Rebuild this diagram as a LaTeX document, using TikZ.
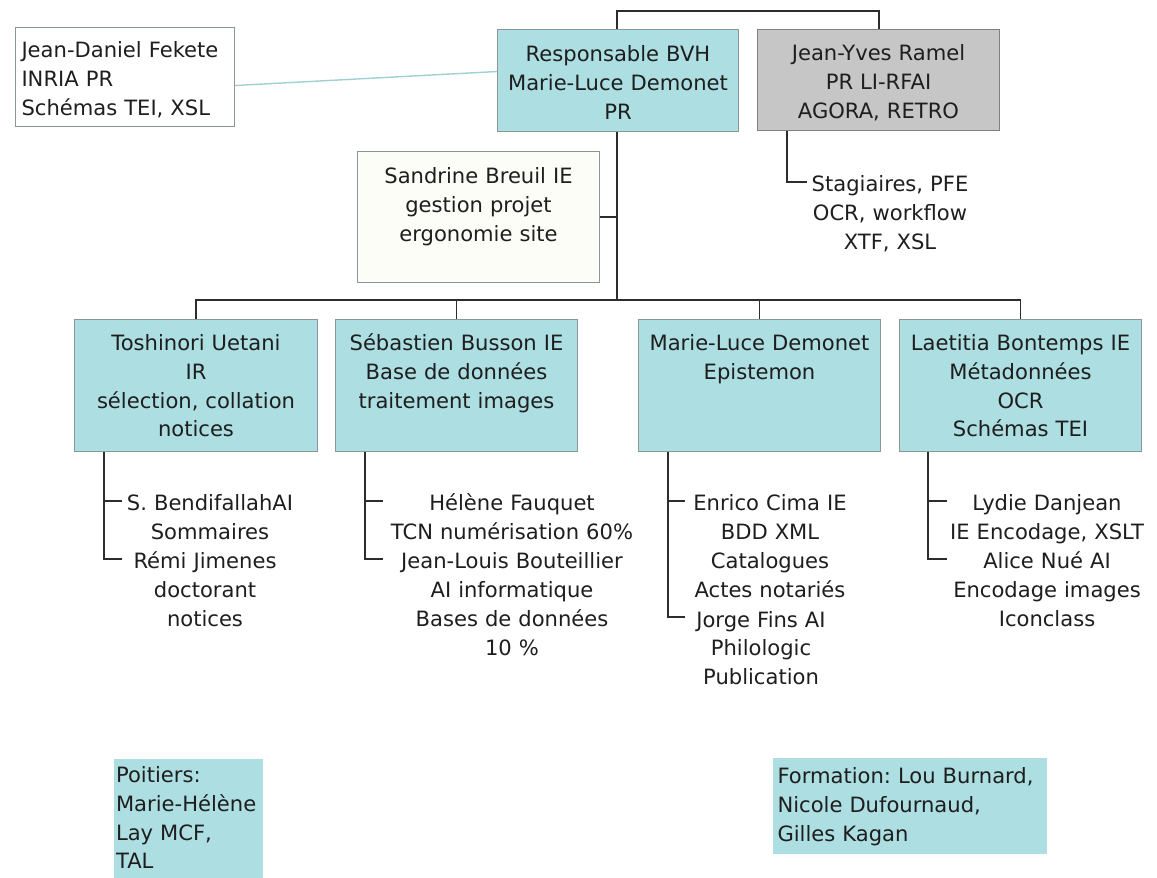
\documentclass[tikz,border=0pt]{standalone}
\usepackage{fontspec}
\setmainfont{DejaVu Sans}
\usepackage{tikz}
\frenchspacing

\definecolor{bvhteal}{RGB}{172,222,226}
\definecolor{ramelgray}{RGB}{198,198,198}
\definecolor{paper}{RGB}{253,253,247}
\definecolor{boxline}{RGB}{140,150,152}
\definecolor{linkgray}{RGB}{45,45,45}
\definecolor{feklink}{RGB}{158,208,212}
\definecolor{ink}{RGB}{30,30,30}

\begin{document}
\begin{tikzpicture}[x=0.02cm, y=-0.02cm, font=\fontsize{12}{16.4}\selectfont, text=ink,
  box/.style={draw=boxline, line width=0.6pt, anchor=north west, inner xsep=0.08cm, inner ysep=0pt, align=center, text height=0.64cm},
  tealbox/.style={box, fill=bvhteal},
  link/.style={draw=linkgray, line width=0.9pt},
  sub/.style={anchor=base, align=center, inner sep=0pt}]

\useasboundingbox (0,0) rectangle (1157,878);

% top row
\node[box, fill=white, align=left, inner xsep=0.12cm, text width=4.14cm, text height=0.6cm, text depth=1.38cm] (fekete) at (15,27) {Jean-Daniel Fekete\\INRIA PR\\Schémas TEI, XSL};
\node[tealbox, text width=4.66cm, text depth=1.4cm] (resp) at (497,29) {Responsable BVH\\Marie-Luce Demonet\\PR};
\node[box, fill=ramelgray, draw=gray, text width=4.68cm, text depth=1.4cm, text height=0.62cm] (ramel) at (757,29) {Jean-Yves Ramel\\PR LI-RFAI\\AGORA, RETRO};
\node[sub, text width=3.32cm] (stag) at (890,192) {Stagiaires, PFE\\OCR, workflow\\XTF, XSL};
\node[box, fill=paper, text width=4.68cm, text depth=1.98cm] (sandrine) at (357,151) {Sandrine Breuil IE\\gestion projet\\ergonomie site};

% second row
\node[tealbox, text width=4.7cm, text height=0.62cm, text depth=2.02cm] (b1) at (74,319) {Toshinori Uetani\\IR\\sélection, collation\\notices};
\node[tealbox, text width=4.68cm, text height=0.62cm, text depth=2.02cm] (b2) at (335,319) {Sébastien Busson IE\\Base de données\\traitement images};
\node[tealbox, text width=4.68cm, text height=0.62cm, text depth=2.02cm] (b3) at (638,319) {Marie-Luce Demonet\\Epistemon};
\node[tealbox, text width=4.68cm, text height=0.62cm, text depth=2.02cm] (b4) at (899,319) {Laetitia Bontemps IE\\Métadonnées\\OCR\\Schémas TEI};

\node[sub, text width=3.52cm] (s11) at (210,511) {S. BendifallahAI\\Sommaires};
\node[sub, text width=3.32cm] (s12) at (205,569) {Rémi Jimenes\\doctorant\\notices};
\node[sub, text width=5.16cm] (s21) at (512,511) {Hélène Fauquet\\TCN numérisation 60\%};
\node[sub, text width=5.16cm] (s22) at (512,569) {Jean-Louis Bouteillier\\AI informatique\\Bases de données\\10 \%};
\node[sub, text width=3.4cm] (s31) at (770,511) {Enrico Cima IE\\BDD XML\\Catalogues\\Actes notariés};
\node[sub, text width=3.04cm] (s32) at (761,627) {Jorge Fins AI\\Philologic\\Publication};
\node[sub, text width=4cm] (s41) at (1047,511) {Lydie Danjean\\IE Encodage, XSLT};
\node[sub, text width=4cm] (s42) at (1047,569) {Alice Nué AI\\Encodage images\\Iconclass};

% bottom notes
\node[box, draw=none, fill=bvhteal, align=left, inner xsep=0.05cm, text width=2.9cm, text height=0.48cm, text depth=1.92cm] (poitiers) at (113,758) {Poitiers:\\\mbox{Marie-Hélène}\\Lay MCF,\\TAL};
\node[box, draw=none, fill=bvhteal, align=left, inner xsep=0.1cm, text width=5.3cm, text height=0.52cm, text depth=1.4cm] (formation) at (772,757) {Formation: Lou Burnard,\\Nicole Dufournaud,\\Gilles Kagan};

% connectors
\coordinate (trunk) at (617,300);
\coordinate (topbar) at (879,11);
\draw[feklink, line width=0.8pt] ([yshift=-0.17cm]fekete.east) -- ([yshift=0.18cm]resp.west);
\draw[link] (resp.north -| trunk) |- (topbar) -- (ramel.north -| topbar);
\draw[link] (resp.south -| trunk) -- (trunk);
\draw[link] (sandrine.east) -- (sandrine.east -| trunk);
\draw[link] (b1.north) |- (trunk) -| (b4.north);
\draw[link] (b2.north) -- (b2.north |- trunk);
\draw[link] (b3.north) -- (b3.north |- trunk);

\coordinate (v0) at ([xshift=0.6cm]ramel.south west);
\draw[link] (v0) |- ([yshift=0.2cm]stag.base west);

\coordinate (v1) at ([xshift=0.6cm]b1.south west);
\draw[link] (v1) |- ([yshift=0.2cm]s12.base west);
\draw[link] ([yshift=0.2cm]s11.base west) -- ([yshift=0.2cm]s11.base west -| v1);
\coordinate (v2) at ([xshift=0.6cm]b2.south west);
\draw[link] (v2) |- ([yshift=0.2cm]s22.base west);
\draw[link] ([yshift=0.2cm]s21.base west) -- ([yshift=0.2cm]s21.base west -| v2);
\coordinate (v3) at ([xshift=0.6cm]b3.south west);
\draw[link] (v3) |- ([yshift=0.2cm]s32.base west);
\draw[link] ([yshift=0.2cm]s31.base west) -- ([yshift=0.2cm]s31.base west -| v3);
\coordinate (v4) at ([xshift=0.58cm]b4.south west);
\draw[link] (v4) |- ([yshift=0.2cm]s42.base west);
\draw[link] ([yshift=0.2cm]s41.base west) -- ([yshift=0.2cm]s41.base west -| v4);
\end{tikzpicture}
\end{document}
